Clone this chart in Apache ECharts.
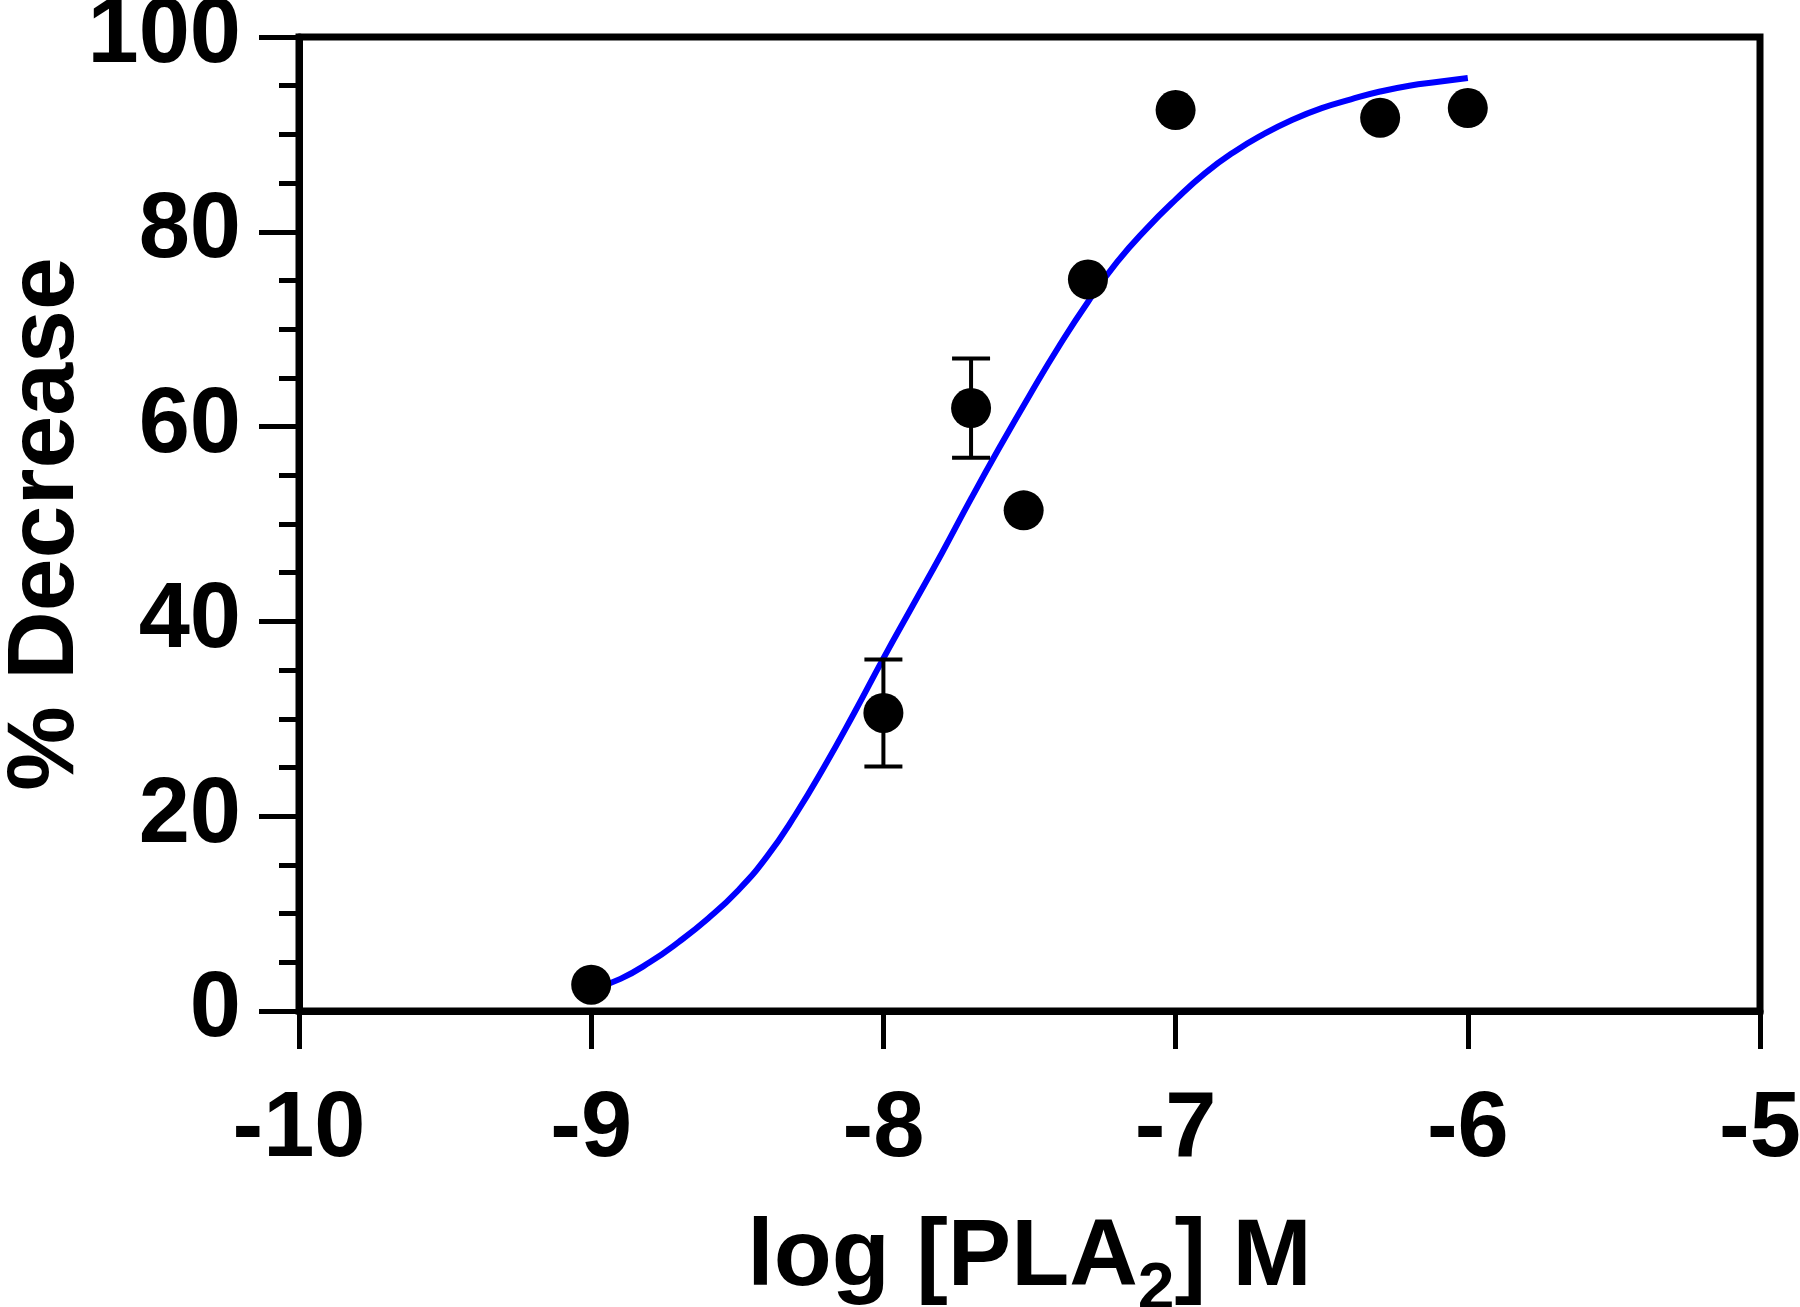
<!DOCTYPE html>
<html>
<head>
<meta charset="utf-8">
<script src="https://cdn.jsdelivr.net/npm/echarts@6/dist/echarts.min.js"></script>
<style>
  html, body { margin: 0; padding: 0; background: #fff; }
  #chart { width: 1800px; height: 1307px; }
</style>
</head>
<body>
<div id="chart"></div>
<script>
  // measured points: log [PLA2] M vs % decrease
  const logConc = [-9, -8, -7.7, -7.52, -7.3, -7, -6.3, -6]
  const pctDecrease = [2.7, 30.6, 61.9, 51.4, 75.1, 92.5, 91.7, 92.7]
  const errBar = [0, 5.5, 5.1, 0, 0, 0, 0, 0]

  // fitted curve, every 0.1 log unit
  const fitX = [-9, -8.9, -8.8, -8.7, -8.6, -8.5, -8.4, -8.3, -8.2, -8.1, -8, -7.9, -7.8, -7.7, -7.6, -7.5, -7.4, -7.3, -7.2, -7.1, -7, -6.9, -6.8, -6.7, -6.6, -6.5, -6.4, -6.3, -6.2, -6.1, -6]
  const fitY = [2.2, 3.3, 5.0, 7.1, 9.5, 12.3, 15.8, 20.2, 25.2, 30.6, 36.2, 41.6, 47.0, 52.6, 58.0, 63.2, 68.2, 72.8, 76.9, 80.3, 83.3, 86.0, 88.2, 90.0, 91.5, 92.7, 93.6, 94.4, 95.0, 95.4, 95.8]

  const xTicks = { min: -10, max: -5, step: 1 }
  const yTicks = { min: 0, max: 100, step: 20 }

  const font = "'Liberation Sans', Arial, sans-serif"
  const chart = echarts.init(document.getElementById('chart'))

  chart.setOption({
    backgroundColor: '#fff',
    animation: false,
    grid: {
      left: 299,
      right: 40,
      top: 37,
      bottom: 296,
      outerBoundsMode: 'none',
      containLabel: false,
      show: true,
      borderColor: '#000',
      borderWidth: 7,
      backgroundColor: '#fff'
    },
    xAxis: {
      type: 'value',
      min: xTicks.min,
      max: xTicks.max,
      interval: xTicks.step,
      axisLine: { onZero: false, lineStyle: { color: '#000', width: 7 } },
      axisTick: { inside: false, length: 38, lineStyle: { color: '#000', width: 5 } },
      axisLabel: { color: '#000', fontSize: 92, fontWeight: 'bold', fontFamily: font, margin: 74 },
      splitLine: { show: false },
      name: '{a|log [PLA}{s|2}{a|] M}',
      nameLocation: 'middle',
      nameGap: 200,
      nameMoveOverlap: false,
      nameTextStyle: {
        rich: {
          a: { color: '#000', fontSize: 95, fontWeight: 'bold', fontFamily: font, lineHeight: 96 },
          s: { color: '#000', fontSize: 66, fontWeight: 'bold', fontFamily: font, lineHeight: 64, padding: [64, 0, 0, 0] }
        }
      }
    },
    yAxis: {
      type: 'value',
      min: yTicks.min,
      max: yTicks.max,
      interval: yTicks.step,
      axisLine: { show: true, onZero: false, lineStyle: { color: '#000', width: 7 } },
      axisTick: { show: true, length: 40, lineStyle: { color: '#000', width: 5 } },
      minorTick: { show: true, splitNumber: 4, length: 20, lineStyle: { color: '#000', width: 5 } },
      axisLabel: { color: '#000', fontSize: 92, fontWeight: 'bold', fontFamily: font, margin: 58 },
      splitLine: { show: false },
      name: '% Decrease',
      nameLocation: 'middle',
      nameGap: 205,
      nameMoveOverlap: false,
      nameTextStyle: { color: '#000', fontSize: 95, fontWeight: 'bold', fontFamily: font }
    },
    series: [
      {
        type: 'line',
        data: fitX.map((x, i) => [x, fitY[i]]),
        showSymbol: false,
        smooth: 0.5,
        lineStyle: { color: '#0000ff', width: 6 },
        z: 2
      },
      {
        type: 'custom',
        data: logConc.map((x, i) => [x, pctDecrease[i] - errBar[i], pctDecrease[i] + errBar[i]]),
        renderItem: function (params, api) {
          if (api.value(2) - api.value(1) <= 0) return null
          const lo = api.coord([api.value(0), api.value(1)])
          const hi = api.coord([api.value(0), api.value(2)])
          const half = 19
          const st = { stroke: '#000', lineWidth: 4 }
          return {
            type: 'group',
            children: [
              { type: 'line', shape: { x1: lo[0], y1: lo[1], x2: hi[0], y2: hi[1] }, style: st },
              { type: 'line', shape: { x1: lo[0] - half, y1: lo[1], x2: lo[0] + half, y2: lo[1] }, style: st },
              { type: 'line', shape: { x1: hi[0] - half, y1: hi[1], x2: hi[0] + half, y2: hi[1] }, style: st }
            ]
          }
        },
        z: 3
      },
      {
        type: 'scatter',
        data: logConc.map((x, i) => [x, pctDecrease[i]]),
        symbol: 'circle',
        symbolSize: 40,
        itemStyle: { color: '#000', opacity: 1 },
        z: 4
      }
    ]
  })
</script>
</body>
</html>
